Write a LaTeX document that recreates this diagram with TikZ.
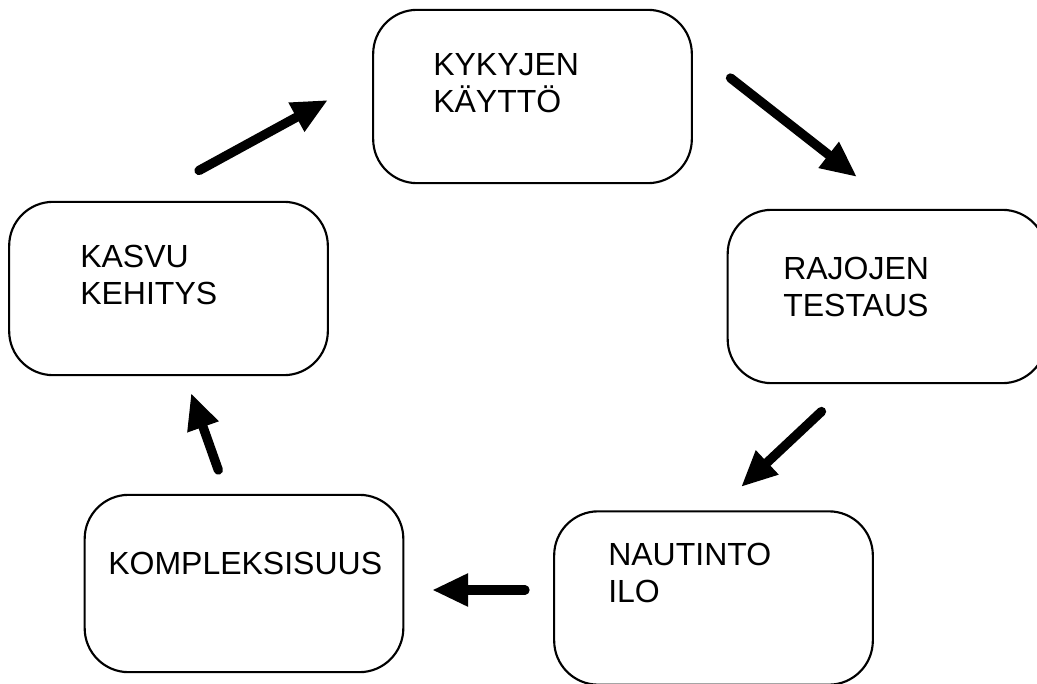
\documentclass[tikz,border=0pt]{standalone}
\usepackage{fontspec}
\setmainfont{Liberation Sans}
\usetikzlibrary{arrows.meta}
\begin{document}
\begin{tikzpicture}[x=0.75pt,y=-0.75pt,
  box/.style={draw, line width=1.6pt, rounded corners=33pt, minimum width=239pt, minimum height=130pt, inner sep=0pt},
  lbl/.style={anchor=north west, inner sep=0pt, align=left, font=\fontsize{24}{27.75}\selectfont},
  flow/.style={line width=7pt, line cap=round, -{Triangle[length=27pt,width=23pt]}}]
\useasboundingbox (0,0) rectangle (1037,684);
\node[box] (b1) at (532.5,96.5) {};
\node[box] (b2) at (887,296.5) {};
\node[box] (b3) at (713.5,598) {};
\node[box, minimum height=133pt] (b4) at (244,583.5) {};
\node[box] (b5) at (168.5,288.5) {};
\node[lbl] (t1) at (433,53) {KYKYJEN\\KÄYTTÖ};
\node[lbl] (t2) at (783,257) {RAJOJEN\\TESTAUS};
\node[lbl] (t3) at (608,543) {NAUTINTO\\ILO};
\node[lbl] (t4) at (108,552) {KOMPLEKSISUUS};
\node[lbl] (t5) at (80,245) {KASVU\\KEHITYS};
\coordinate (a1s) at (199,170.5); \coordinate (a1e) at (328,100);
\coordinate (a2s) at (730.5,78); \coordinate (a2e) at (857,177);
\coordinate (a3s) at (821.5,411.5); \coordinate (a3e) at (741,487);
\coordinate (a4s) at (525,590); \coordinate (a4e) at (432,590);
\coordinate (a5s) at (218.3,470); \coordinate (a5e) at (191,393);
\draw[flow] (a1s) -- (a1e);
\draw[flow] (a2s) -- (a2e);
\draw[flow] (a3s) -- (a3e);
\draw[flow] (a4s) -- (a4e);
\draw[flow] (a5s) -- (a5e);
\end{tikzpicture}
\end{document}
